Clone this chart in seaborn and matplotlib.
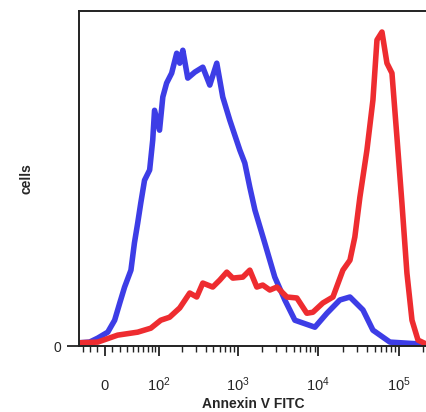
import numpy as np
import pandas as pd
import matplotlib
matplotlib.use("Agg")
import matplotlib.pyplot as plt
import matplotlib.transforms as mtransforms
import seaborn as sns

# Annexin V FITC histogram (blue = control, red = stained)
blue_fitc = [-35, -20, -9, 4, 13, 20, 27, 37, 43, 49, 55, 63, 75, 83, 88, 103, 114, 128,
             149, 173, 189, 207, 239, 293, 369, 451, 551, 654, 800, 1065, 1228, 1417,
             1640, 2170, 2890, 3850, 5130, 9080, 12800, 18500, 24700, 35800, 47600,
             77300, 222700]
blue_cells = [1.0, 1.2, 2.4, 4.2, 7.8, 13.0, 17.8, 22.9, 31.1, 37.1, 43.1, 50.0, 53.1,
              62.1, 71.1, 65.1, 75.1, 79.3, 82.3, 88.3, 85.3, 89.2, 80.8, 82.6, 84.1,
              78.7, 85.3, 75.1, 68.1, 59.1, 55.2, 47.9, 41.0, 31.1, 20.8, 13.9, 7.8,
              5.7, 9.9, 13.9, 14.8, 10.9, 4.8, 1.2, 0.5]

red_fitc = [-35, -9, 17, 49, 78, 107, 140, 189, 253, 310, 369, 491, 600, 734, 871, 1160,
            1417, 1730, 2050, 2510, 3070, 4080, 5430, 7210, 8570, 11400, 15200, 20200,
            24700, 28400, 32800, 40100, 47600, 53400, 61600, 71000, 81900, 94400,
            108900, 125600, 145100, 172300, 222700]
red_cells = [1.0, 1.2, 3.3, 4.2, 5.4, 7.8, 8.7, 11.5, 16.0, 14.8, 19.0, 17.8, 19.9, 22.3,
             20.5, 20.8, 22.9, 17.8, 18.4, 16.9, 17.8, 14.8, 14.5, 9.9, 10.2, 13.0, 14.8,
             22.9, 25.9, 32.9, 44.9, 59.1, 74.2, 92.3, 94.7, 85.3, 82.3, 63.0, 43.1,
             22.0, 7.8, 1.8, 0.5]

x_ticks = [0, 1e2, 1e3, 1e4, 1e5]
x_ticklabels = ["0", r"$\mathregular{10^2}$", r"$\mathregular{10^3}$",
                r"$\mathregular{10^4}$", r"$\mathregular{10^5}$"]
x_minor = ([-30, -20, -10] + list(range(10, 100, 10)) + list(range(200, 1000, 100))
           + list(range(2000, 10000, 1000)) + list(range(20000, 100000, 10000))
           + [200000])

df = pd.concat([
    pd.DataFrame({"fitc": blue_fitc, "cells": blue_cells, "sample": "control"}),
    pd.DataFrame({"fitc": red_fitc, "cells": red_cells, "sample": "annexin"}),
])

sns.set_style("ticks")
plt.rcParams["font.family"] = ["Liberation Sans", "DejaVu Sans"]

fig = plt.figure(figsize=(4.27, 4.12), dpi=100)
ax = fig.add_axes([0.185, 0.16, 0.815, 0.813])

sns.lineplot(data=df, x="fitc", y="cells", hue="sample", estimator=None, sort=False,
             palette={"control": "#3d3de6", "annexin": "#ee2c30"},
             linewidth=4.0, ax=ax, legend=False)

# biexponential-like display
ax.set_xscale("function", functions=(lambda v: np.arcsinh(v / 45.0),
                                     lambda v: 45.0 * np.sinh(v)))
ax.set_xlim(-36, 222700)
ax.set_ylim(0, 101)

ax.set_xticks(x_ticks)
ax.set_xticklabels(x_ticklabels, fontsize=10.5)
ax.set_xticks(x_minor, minor=True)
ax.set_yticks([0])
ax.set_yticklabels(["0"], fontsize=10)

ax.tick_params(axis="x", which="major", direction="out", length=7, width=1.3,
               pad=14, color="#222222")
ax.tick_params(axis="x", which="minor", direction="out", length=4, width=1.0,
               color="#222222")
ax.tick_params(axis="y", which="major", direction="out", length=9, width=1.3,
               pad=4, color="#222222")

# put the plain "0" on the same baseline as the "10"s
zero_lab = ax.get_xticklabels()[0]
zero_lab.set_transform(zero_lab.get_transform() +
                       mtransforms.ScaledTranslation(0, -3 / 72, fig.dpi_scale_trans))

for side in ["left", "top", "bottom"]:
    ax.spines[side].set_visible(True)
    ax.spines[side].set_color("#222222")
    ax.spines[side].set_linewidth(1.4)
ax.spines["right"].set_visible(False)

ax.set_xlabel("Annexin V FITC", fontsize=10, fontweight="bold", labelpad=2)
ax.set_ylabel("cells", fontsize=10, fontweight="bold", labelpad=14)

plt.savefig("out.png", dpi=100)
